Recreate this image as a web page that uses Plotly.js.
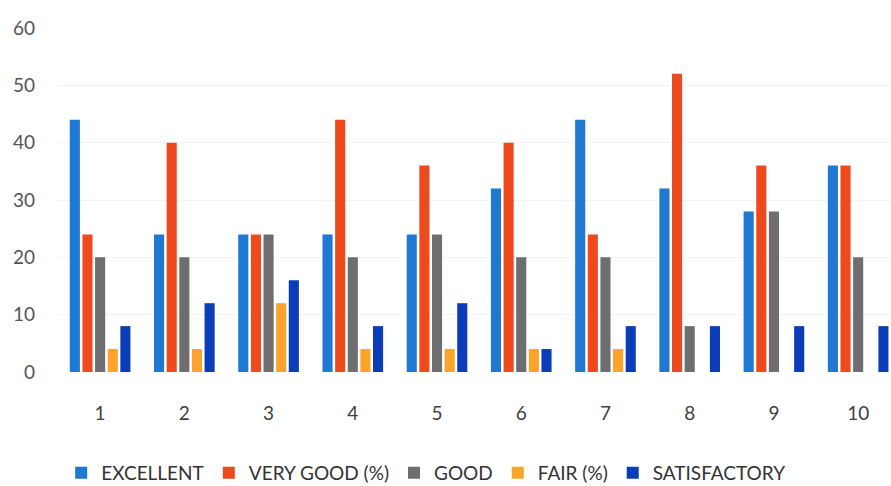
<!DOCTYPE html>
<html>
<head>
<meta charset="utf-8">
<script src="https://cdn.plot.ly/plotly-3.0.1.min.js"></script>
<style>html,body{margin:0;padding:0;background:#fff;}#chart{width:891px;height:486px;}</style>
</head>
<body>
<div id="chart"></div>
<script>
var categories = ["1","2","3","4","5","6","7","8","9","10"];
var seriesNames = ["EXCELLENT","VERY GOOD (%)","GOOD","FAIR (%)","SATISFACTORY"];
var excellent    = [44,24,24,24,24,32,44,32,28,36];
var veryGood     = [24,40,24,44,36,40,24,52,36,36];
var good         = [20,20,24,20,24,20,20,8,28,20];
var fair         = [4,4,12,4,4,4,4,0,0,0];
var satisfactory = [8,12,16,8,12,4,8,8,8,8];
var yTicks = [0,10,20,30,40,50,60];

var colors = ["#1f78d1","#ee4a1e","#6e6e70","#fba32a","#0b3db8"];
var values = [excellent, veryGood, good, fair, satisfactory];

var traces = values.map(function(v,i){
  return {type:'bar', name:seriesNames[i], x:categories, y:v,
          marker:{color:colors[i]}, hoverinfo:'none'};
});

var layout = {
  width:891, height:486,
  margin:{l:58, r:0, t:28, b:114, autoexpand:false},
  paper_bgcolor:'#ffffff', plot_bgcolor:'#ffffff',
  barmode:'group', bargap:0.25, bargroupgap:0.2,
  font:{family:'Lato, "Open Sans", sans-serif', size:19, color:'#555555'},
  xaxis:{type:'category', range:[-0.5, 9.39], showgrid:false, zeroline:false,
         showline:false, ticks:'', ticklabelstandoff:28,
         tickfont:{size:19, color:'#404040'}},
  yaxis:{range:[0,60], tickvals:yTicks, showgrid:true, gridcolor:'#f3f3f3',
         zeroline:false, showline:false, ticks:'', ticklabelstandoff:22,
         tickfont:{size:19, color:'#555555'}},
  showlegend:true,
  legend:{orientation:'h', x:0.442, xanchor:'center', y:-0.293, yanchor:'middle',
          font:{size:19, color:'#333333'}, itemwidth:30, traceorder:'normal'}
};

Plotly.newPlot('chart', traces, layout, {staticPlot:true, displayModeBar:false});
</script>
</body>
</html>
